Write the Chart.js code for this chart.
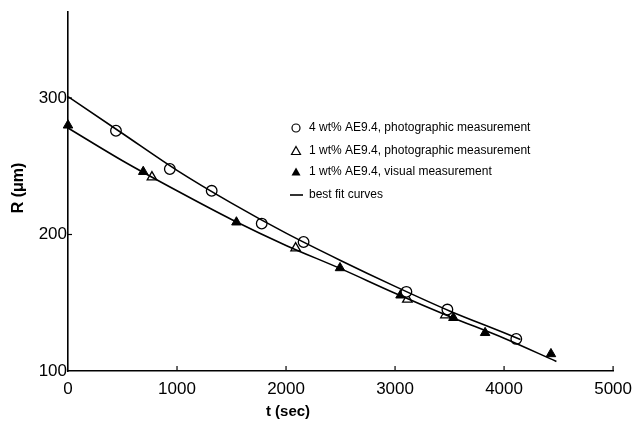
<!DOCTYPE html>
<html>
<head>
<meta charset="utf-8">
<script src="https://cdn.jsdelivr.net/npm/chart.js@4.4.1/dist/chart.umd.min.js"></script>
<style>
  html, body { margin: 0; padding: 0; background: #fff; }
  #wrap { width: 640px; height: 421px; position: relative; }
</style>
</head>
<body>
<div id="wrap"><canvas id="myChart"></canvas></div>
<script>
// 4 wt% AE9.4, photographic measurement (open circles)
const circleT = [440, 934, 1318, 1777, 2161, 3104, 3480, 4112];
const circleR = [276, 248, 232, 208, 194.5, 158, 145, 123.5];
// 1 wt% AE9.4, photographic measurement (open triangles)
const openTriT = [770, 2088, 3113, 3462];
const openTriR = [242, 190, 152.5, 141];
// 1 wt% AE9.4, visual measurement (filled triangles)
const fillTriT = [0, 690, 1545, 2495, 3050, 3535, 3826, 4430];
const fillTriR = [280, 246, 209, 175.5, 155.5, 139, 128, 112.5];
// best fit curves
const fitAT = [0, 500, 1000, 1500, 2000, 2500, 3000, 3500, 4000, 4150];
const fitAR = [301, 274, 247, 223, 201, 181, 162, 144, 128, 123];
const fitBT = [0, 500, 1000, 1500, 2000, 2500, 3000, 3500, 4000, 4480];
const fitBR = [278, 254, 232, 211, 192, 175, 157, 140, 124, 107];

const xTicks = [0, 1000, 2000, 3000, 4000, 5000];
const yTicks = [100, 200, 300];

const legendLabels = [
  '4 wt% AE9.4, photographic measurement',
  '1 wt% AE9.4, photographic measurement',
  '1 wt% AE9.4, visual measurement',
  'best fit curves'
];

function pts(xs, ys) {
  return xs.map((x, i) => ({ x: x, y: ys[i] }));
}

const fitStyle = {
  showLine: true, borderColor: '#000', borderWidth: 1.6, pointRadius: 0,
  cubicInterpolationMode: 'monotone', fill: false
};

// axis titles, inward tick marks and the in-plot legend
const extras = {
  id: 'extras',
  afterDraw(chart) {
    const ctx = chart.ctx;
    const xs = chart.scales.x, ys = chart.scales.y;
    ctx.save();
    ctx.strokeStyle = '#000';
    ctx.lineWidth = 1.2;
    xTicks.slice(1).forEach(v => {
      const px = xs.getPixelForValue(v);
      ctx.beginPath(); ctx.moveTo(px, ys.bottom); ctx.lineTo(px, ys.bottom - 5); ctx.stroke();
    });
    yTicks.slice(1).forEach(v => {
      const py = ys.getPixelForValue(v);
      ctx.beginPath(); ctx.moveTo(xs.left, py); ctx.lineTo(xs.left + 4, py); ctx.stroke();
    });

    ctx.fillStyle = '#000';
    ctx.font = 'bold 15px "Liberation Sans", Arial, sans-serif';
    ctx.textAlign = 'center';
    ctx.textBaseline = 'middle';
    ctx.fillText('t (sec)', 288, 412);
    ctx.save();
    ctx.translate(19, 188);
    ctx.rotate(-Math.PI / 2);
    ctx.font = 'bold 16px "Liberation Sans", Arial, sans-serif';
    ctx.fillText('R (\u03bcm)', 0, 0);
    ctx.restore();

    // legend
    const lx = 296, tx = 309;
    const rows = [128, 151, 172, 195];
    ctx.font = '12px "Liberation Sans", Arial, sans-serif';
    ctx.textAlign = 'left';
    rows.forEach((ry, i) => {
      ctx.fillText(legendLabels[i], tx, ry);
    });
    ctx.lineWidth = 1.2;
    ctx.beginPath(); ctx.arc(lx, rows[0], 4, 0, Math.PI * 2); ctx.stroke();
    ctx.beginPath();
    ctx.moveTo(lx, rows[1] - 4.5); ctx.lineTo(lx + 4.5, rows[1] + 3.5); ctx.lineTo(lx - 4.5, rows[1] + 3.5);
    ctx.closePath(); ctx.stroke();
    ctx.beginPath();
    ctx.moveTo(lx, rows[2] - 4.5); ctx.lineTo(lx + 4.5, rows[2] + 3.5); ctx.lineTo(lx - 4.5, rows[2] + 3.5);
    ctx.closePath(); ctx.fill();
    ctx.lineWidth = 1.6;
    ctx.beginPath(); ctx.moveTo(290, rows[3]); ctx.lineTo(303, rows[3]); ctx.stroke();
    ctx.restore();
  }
};

const tickFont = { family: '"Liberation Sans", Arial, sans-serif', size: 17 };

const ctx = document.getElementById('myChart').getContext('2d');
const chart = new Chart(ctx, {
  type: 'scatter',
  data: {
    datasets: [
      Object.assign({ label: 'fit A', data: pts(fitAT, fitAR) }, fitStyle),
      Object.assign({ label: 'fit B', data: pts(fitBT, fitBR) }, fitStyle),
      {
        label: legendLabels[0], data: pts(circleT, circleR), clip: false,
        pointStyle: 'circle', pointRadius: 5.3, pointBorderWidth: 1.3,
        pointBackgroundColor: '#fff', pointBorderColor: '#000'
      },
      {
        label: legendLabels[1], data: pts(openTriT, openTriR), clip: false,
        pointStyle: 'triangle', pointRadius: 5.5, pointBorderWidth: 1.3,
        pointBackgroundColor: '#fff', pointBorderColor: '#000'
      },
      {
        label: legendLabels[2], data: pts(fillTriT, fillTriR), clip: false,
        pointStyle: 'triangle', pointRadius: 5.5, pointBorderWidth: 1,
        pointBackgroundColor: '#000', pointBorderColor: '#000'
      }
    ]
  },
  options: {
    responsive: true,
    maintainAspectRatio: false,
    animation: false,
    layout: { padding: { top: 12, right: 26, left: 0, bottom: 0 } },
    plugins: {
      legend: { display: false },
      tooltip: { enabled: false }
    },
    scales: {
      x: {
        type: 'linear', min: 0, max: 5000,
        afterBuildTicks: s => { s.ticks = xTicks.map(v => ({ value: v })); },
        afterFit: s => { s.height = 50; },
        grid: { display: false, drawTicks: false },
        border: { display: true, color: '#000', width: 1.6 },
        ticks: {
          color: '#000', padding: 8, maxRotation: 0, font: tickFont,
          callback: v => String(v)
        }
      },
      y: {
        type: 'linear', min: 100, max: 363,
        afterBuildTicks: s => { s.ticks = yTicks.map(v => ({ value: v })); },
        afterFit: s => { s.width = 68; },
        grid: { display: false, drawTicks: false },
        border: { display: true, color: '#000', width: 1.6 },
        ticks: {
          color: '#000', padding: 1, font: tickFont,
          callback: v => String(v)
        }
      }
    }
  },
  plugins: [extras]
});
</script>
</body>
</html>
